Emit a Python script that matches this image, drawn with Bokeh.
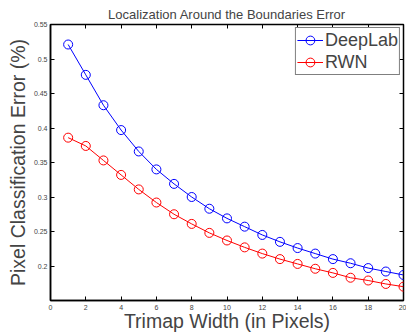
from bokeh.plotting import figure
from bokeh.models import Range1d, FixedTicker, LinearAxis, Legend, LegendItem
from bokeh.embed import file_html
from bokeh.resources import INLINE

trimap_width = list(range(1, 21))
deeplab = [0.521, 0.477, 0.433, 0.397, 0.366, 0.340, 0.319, 0.300, 0.283, 0.269,
           0.257, 0.245, 0.235, 0.226, 0.218, 0.210, 0.204, 0.197, 0.192, 0.187]
rwn = [0.386, 0.374, 0.353, 0.332, 0.311, 0.292, 0.275, 0.261, 0.248, 0.237,
       0.227, 0.218, 0.210, 0.203, 0.196, 0.190, 0.183, 0.179, 0.174, 0.170]
x_ticks = list(range(0, 21, 2))
y_ticks = [0.2, 0.25, 0.3, 0.35, 0.4, 0.45, 0.5, 0.55]

FONT = "Liberation Sans"

p = figure(width=406, height=334, output_backend="svg", toolbar_location=None,
           x_range=Range1d(0, 20), y_range=Range1d(0.15, 0.55),
           min_border_left=50, min_border_right=3, min_border_top=24, min_border_bottom=33,
           title="Localization Around the Boundaries Error")
p.title.text_font = FONT
p.title.text_font_size = "13px"
p.title.text_font_style = "normal"
p.title.align = "center"
p.title.vertical_align = "top"
p.title.offset = 0
p.title.standoff = 2
p.grid.visible = False
p.outline_line_color = "black"
p.outline_line_width = 1.5

for ax in (p.xaxis[0], p.yaxis[0]):
    ax.major_tick_in = 4
    ax.major_tick_out = 0
    ax.minor_tick_in = 0
    ax.minor_tick_out = 0
    ax.axis_line_color = "black"
    ax.axis_line_width = 1.5
    ax.major_tick_line_color = "black"
    ax.major_label_text_font = FONT
    ax.major_label_text_font_size = "7px"
    ax.major_label_text_color = "#444444"
    ax.axis_label_text_font = FONT
    ax.axis_label_text_font_size = "19.5px"
    ax.axis_label_text_font_style = "normal"

p.xaxis[0].ticker = FixedTicker(ticks=x_ticks)
p.yaxis[0].ticker = FixedTicker(ticks=y_ticks)
p.xaxis[0].axis_label = "Trimap Width (in Pixels)"
p.yaxis[0].axis_label = "Pixel Classification Error (%)"
p.xaxis[0].major_label_standoff = 4
p.xaxis[0].axis_label_standoff = -3
p.yaxis[0].major_label_standoff = 3
p.yaxis[0].axis_label_standoff = 2

# mirrored ticks on top and right (no labels drawn)
top = LinearAxis(ticker=FixedTicker(ticks=x_ticks), major_label_text_font_size="0px",
                 major_label_text_color=None,
                 major_tick_in=4, major_tick_out=0, minor_tick_in=0, minor_tick_out=0,
                 axis_line_color=None, major_label_standoff=0)
right = LinearAxis(ticker=FixedTicker(ticks=y_ticks), major_label_text_font_size="0px",
                   major_label_text_color=None,
                   major_tick_in=4, major_tick_out=0, minor_tick_in=0, minor_tick_out=0,
                   axis_line_color=None, major_label_standoff=0)
p.add_layout(top, "above")
p.add_layout(right, "right")

l1 = p.line(trimap_width, deeplab, line_color="#0000ff", line_width=1)
s1 = p.scatter(trimap_width, deeplab, marker="circle", size=9, fill_color=None,
               line_color="#0000ff", line_width=1)
l2 = p.line(trimap_width, rwn, line_color="#ff0000", line_width=1)
s2 = p.scatter(trimap_width, rwn, marker="circle", size=9, fill_color=None,
               line_color="#ff0000", line_width=1)

legend = Legend(items=[LegendItem(label="DeepLab", renderers=[l1, s1]),
                       LegendItem(label="RWN", renderers=[l2, s2])],
                location="top_right")
legend.label_text_font = FONT
legend.label_text_font_size = "18px"
legend.border_line_color = "black"
legend.border_line_width = 1
legend.background_fill_alpha = 1
legend.margin = 3
legend.padding = 1
legend.spacing = 0
legend.glyph_width = 26
legend.glyph_height = 22
legend.label_standoff = 2
legend.label_height = 22
p.add_layout(legend)

open("out.html", "w").write(file_html(p, INLINE))
